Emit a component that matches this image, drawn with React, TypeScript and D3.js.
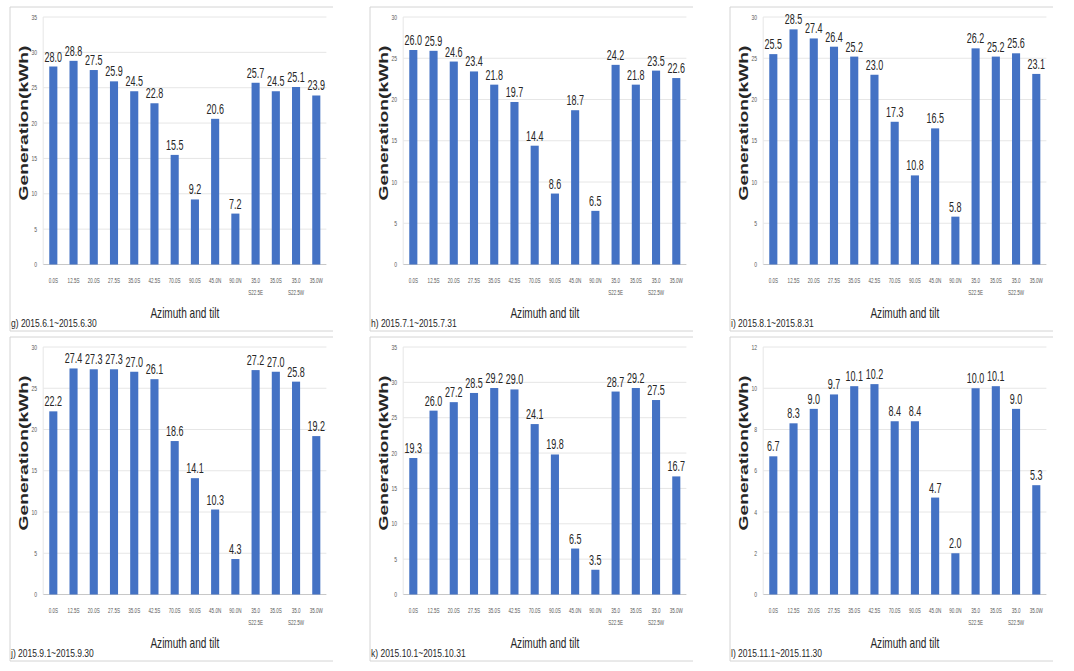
import React from "react";
import * as d3 from "d3";

const categories = [
  "0.0S", "12.5S", "20.0S", "27.5S", "35.0S", "42.5S", "70.0S",
  "90.0S", "45.0N", "90.0N", "35.0\nS22.5E", "35.0S", "35.0\nS22.5W", "35.0W",
];

const gValues = [28.0, 28.8, 27.5, 25.9, 24.5, 22.8, 15.5, 9.2, 20.6, 7.2, 25.7, 24.5, 25.1, 23.9];
const hValues = [26.0, 25.9, 24.6, 23.4, 21.8, 19.7, 14.4, 8.6, 18.7, 6.5, 24.2, 21.8, 23.5, 22.6];
const iValues = [25.5, 28.5, 27.4, 26.4, 25.2, 23.0, 17.3, 10.8, 16.5, 5.8, 26.2, 25.2, 25.6, 23.1];
const jValues = [22.2, 27.4, 27.3, 27.3, 27.0, 26.1, 18.6, 14.1, 10.3, 4.3, 27.2, 27.0, 25.8, 19.2];
const kValues = [19.3, 26.0, 27.2, 28.5, 29.2, 29.0, 24.1, 19.8, 6.5, 3.5, 28.7, 29.2, 27.5, 16.7];
const lValues = [6.7, 8.3, 9.0, 9.7, 10.1, 10.2, 8.4, 8.4, 4.7, 2.0, 10.0, 10.1, 9.0, 5.3];

const panelCaptions = [
  "g) 2015.6.1~2015.6.30",
  "h) 2015.7.1~2015.7.31",
  "i) 2015.8.1~2015.8.31",
  "j) 2015.9.1~2015.9.30",
  "k) 2015.10.1~2015.10.31",
  "l) 2015.11.1~2015.11.30",
];
const yMaxes = [35, 30, 30, 30, 35, 12];
const yTickSteps = [5, 5, 5, 5, 5, 2];
const panelValues = [gValues, hValues, iValues, jValues, kValues, lValues];

const yTitle = "Generation(kWh)";
const xTitle = "Azimuth and tilt";

const FONT = "'Liberation Sans', Arial, sans-serif";
const BAR = "#4472C4";

function SText(props: any) {
  const { x, y, sx = 1, size, anchor = "middle", weight = "normal", fill = "#262626", children } = props;
  return (
    <text
      transform={`translate(${x},${y}) scale(${sx},1)`}
      fontSize={size}
      textAnchor={anchor}
      fontWeight={weight}
      fill={fill}
      fontFamily={FONT}
    >
      {children}
    </text>
  );
}

function Panel({ idx, dx, dy }: { idx: number; dx: number; dy: number }) {
  const values = panelValues[idx];
  const yMax = yMaxes[idx];
  const step = yTickSteps[idx];
  const x = d3.scaleBand<string>()
    .domain(categories.map((c, i) => String(i)))
    .range([43.2, 326.4])
    .paddingInner(0.6)
    .paddingOuter(0.3);
  const y = d3.scaleLinear().domain([0, yMax]).range([264.5, 17]);
  const ticks = d3.range(0, yMax + 0.001, step);
  const [x0, x1] = x.range();

  return (
    <g transform={`translate(${dx},${dy})`}>
      {/* frame */}
      <line x1={10} x2={333} y1={7} y2={7} stroke="#d4d4d4" strokeWidth={1} />
      <line x1={10} x2={333} y1={331} y2={331} stroke="#d4d4d4" strokeWidth={1} />
      <line x1={10} x2={10} y1={7} y2={331} stroke="#d4d4d4" strokeWidth={1} />
      {/* gridlines */}
      {ticks.map((t) => (
        <line key={t} x1={x0} x2={x1} y1={y(t)} y2={y(t)}
          stroke={t === 0 ? "#c8c8c8" : "#e6e6e6"} strokeWidth={1} />
      ))}
      <line x1={x0} x2={x0} y1={y(yMax)} y2={y(0)} stroke="#e6e6e6" strokeWidth={1} />
      {/* y tick labels */}
      {ticks.map((t) => (
        <SText key={"t" + t} x={37} y={y(t) + 2.5} sx={0.72} size={7} anchor="end" fill="#595959">
          {d3.format("d")(t)}
        </SText>
      ))}
      {/* bars */}
      {values.map((v, i) => (
        <rect key={"b" + i} x={x(String(i))} y={y(v)} width={x.bandwidth()} height={y(0) - y(v)} fill={BAR} />
      ))}
      {/* value labels */}
      {values.map((v, i) => (
        <SText key={"v" + i} x={(x(String(i)) as number) + x.bandwidth() / 2} y={y(v) - 5}
          sx={0.6} size={15} fill="#262626">
          {d3.format(".1f")(v)}
        </SText>
      ))}
      {/* x tick labels */}
      {categories.map((c, i) =>
        c.split("\n").map((line, li) => (
          <SText key={"c" + i + "-" + li} x={(x(String(i)) as number) + x.bandwidth() / 2}
            y={283 + li * 11.5} sx={0.7} size={6.5} fill="#595959">
            {line}
          </SText>
        ))
      )}
      {/* axis titles */}
      <SText x={(x0 + x1) / 2} y={318} sx={0.72} size={14} fill="#262626">{xTitle}</SText>
      <text
        transform={`translate(28,123) rotate(-90)`}
        textAnchor="middle"
        fontSize={13.5}
        fontWeight="bold"
        fill="#262626"
        fontFamily={FONT}
        textLength={155}
        lengthAdjust="spacingAndGlyphs"
      >
        {yTitle}
      </text>
      {/* caption */}
      <SText x={11} y={327} sx={0.85} size={10} anchor="start" fill="#262626">{panelCaptions[idx]}</SText>
    </g>
  );
}

export default function App() {
  const offsetsX = [0, 360, 720];
  const offsetsY = [0, 330];
  return (
    <svg
      width={1074}
      height={671}
      style={{ position: "absolute", left: 0, top: 0, background: "#ffffff" }}
    >
      <rect x={0} y={0} width={1074} height={671} fill="#ffffff" />
      {panelValues.map((_, idx) => (
        <Panel key={idx} idx={idx} dx={offsetsX[idx % 3]} dy={offsetsY[Math.floor(idx / 3)]} />
      ))}
    </svg>
  );
}
